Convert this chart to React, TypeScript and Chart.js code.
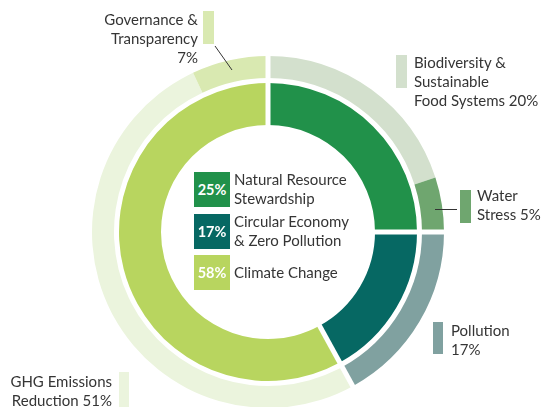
import React, { useEffect, useRef } from "react";
import { Chart, registerables } from "chart.js";

Chart.register(...registerables);

const innerLabels = ["Natural Resource Stewardship", "Circular Economy & Zero Pollution", "Climate Change"];
const innerValues = [25, 17, 58];
const innerColors = ["#21914a", "#066863", "#b8d55f"];

const outerLabels = [
  "Biodiversity & Sustainable Food Systems",
  "Water Stress",
  "Pollution",
  "GHG Emissions Reduction",
  "Governance & Transparency",
];
const outerValues = [20, 5, 17, 51, 7];
const outerColors = ["#d3e0cd", "#6fa66f", "#80a1a0", "#ebf4dd", "#d9e9b1"];

const legendRows = [
  { pct: "25%", lines: ["Natural Resource", "Stewardship"], color: innerColors[0] },
  { pct: "17%", lines: ["Circular Economy", "& Zero Pollution"], color: innerColors[1] },
  { pct: "58%", lines: ["Climate Change"], color: innerColors[2] },
];

const FONT = "Lato, 'Open Sans', sans-serif";
const TEXT = "#353535";
const FS = 15;

const gapPlugin = {
  id: "ringGaps",
  afterDatasetsDraw(chart: any) {
    const innerMeta = chart.getDatasetMeta(2);
    const outerMeta = chart.getDatasetMeta(0);
    if (!innerMeta || !outerMeta || !innerMeta.data.length) return;
    const ctx = chart.ctx;
    const first = innerMeta.data[0];
    const cx = first.x;
    const cy = first.y;
    const r0 = first.innerRadius - 1;
    const r1 = outerMeta.data[0].outerRadius + 2;
    ctx.save();
    ctx.strokeStyle = "#ffffff";
    ctx.lineWidth = 5;
    innerMeta.data.forEach((arc: any) => {
      const a = arc.startAngle;
      ctx.beginPath();
      ctx.moveTo(cx + Math.cos(a) * r0, cy + Math.sin(a) * r0);
      ctx.lineTo(cx + Math.cos(a) * r1, cy + Math.sin(a) * r1);
      ctx.stroke();
    });
    ctx.restore();
  },
};

function Label({ x, y, lines, align }: { x: number; y: number; lines: string[]; align: "left" | "right" }) {
  return (
    <div
      style={{
        position: "absolute",
        top: y,
        ...(align === "left" ? { left: x } : { right: 545 - x }),
        textAlign: align,
        fontFamily: FONT,
        fontSize: FS,
        lineHeight: "19px",
        color: TEXT,
        whiteSpace: "nowrap",
      }}
    >
      {lines.map((l, i) => (
        <div key={i}>{l}</div>
      ))}
    </div>
  );
}

function Swatch({ x, y, w, h, color }: { x: number; y: number; w: number; h: number; color: string }) {
  return <div style={{ position: "absolute", left: x, top: y, width: w, height: h, background: color }} />;
}

export default function App() {
  const ref = useRef<HTMLCanvasElement | null>(null);

  useEffect(() => {
    if (!ref.current) return;
    const chart = new Chart(ref.current, {
      type: "doughnut",
      data: {
        labels: outerLabels,
        datasets: [
          {
            label: "Outer",
            data: outerValues,
            backgroundColor: outerColors,
            borderWidth: 0,
            weight: 22,
          } as any,
          {
            label: "Spacer",
            data: [1],
            backgroundColor: ["rgba(0,0,0,0)"],
            borderWidth: 0,
            weight: 5,
          } as any,
          {
            label: "Inner",
            data: innerValues,
            backgroundColor: innerColors,
            borderWidth: 0,
            weight: 42,
          } as any,
        ],
      },
      options: {
        responsive: true,
        maintainAspectRatio: false,
        animation: false,
        cutout: "60.8%",
        layout: { padding: { left: 92, right: 101, top: 56, bottom: 2 } },
        plugins: {
          legend: { display: false },
          tooltip: { enabled: false },
        },
      },
      plugins: [gapPlugin],
    });
    return () => chart.destroy();
  }, []);

  return (
    <div style={{ position: "absolute", left: 0, top: 0, width: 545, height: 407, overflow: "hidden", background: "#fff" }}>
      <div style={{ position: "absolute", left: 0, top: 0, width: 545, height: 410 }}>
        <canvas ref={ref} />
      </div>

      {legendRows.map((row, i) => {
        const top = 172 + i * 41.5;
        return (
          <div key={i}>
            <div
              style={{
                position: "absolute",
                left: 194,
                top,
                width: 36,
                height: 35,
                background: row.color,
                color: "#fff",
                fontFamily: FONT,
                fontWeight: 700,
                fontSize: 14.5,
                display: "flex",
                alignItems: "center",
                justifyContent: "center",
              }}
            >
              {row.pct}
            </div>
            <div
              style={{
                position: "absolute",
                left: 234,
                top: row.lines.length === 1 ? top + 8 : top - 2,
                fontFamily: FONT,
                fontSize: FS,
                lineHeight: "19px",
                color: TEXT,
                whiteSpace: "nowrap",
              }}
            >
              {row.lines.map((l, j) => (
                <div key={j}>{l}</div>
              ))}
            </div>
          </div>
        );
      })}

      <Label x={198} y={10} lines={["Governance &", "Transparency", "7%"]} align="right" />
      <Swatch x={203} y={11} w={11} h={33} color={outerColors[4]} />

      <Label x={414} y={53} lines={["Biodiversity &", "Sustainable", "Food Systems 20%"]} align="left" />
      <Swatch x={396} y={55} w={11} h={33} color={outerColors[0]} />

      <Label x={477} y={186} lines={["Water", "Stress 5%"]} align="left" />
      <Swatch x={460} y={190} w={11} h={33} color={outerColors[1]} />

      <Label x={451} y={321} lines={["Pollution", "17%"]} align="left" />
      <Swatch x={433} y={322} w={10} h={32} color={outerColors[2]} />

      <Label x={112} y={372} lines={["GHG Emissions", "Reduction 51%"]} align="right" />
      <Swatch x={119} y={372} w={10} h={36} color={outerColors[3]} />

      <svg width={545} height={407} style={{ position: "absolute", left: 0, top: 0, pointerEvents: "none" }}>
        <line x1={215} y1={46} x2={232} y2={70} stroke="#333" strokeWidth={1} />
        <line x1={435} y1={209.5} x2={457} y2={209.5} stroke="#333" strokeWidth={1} />
      </svg>
    </div>
  );
}
